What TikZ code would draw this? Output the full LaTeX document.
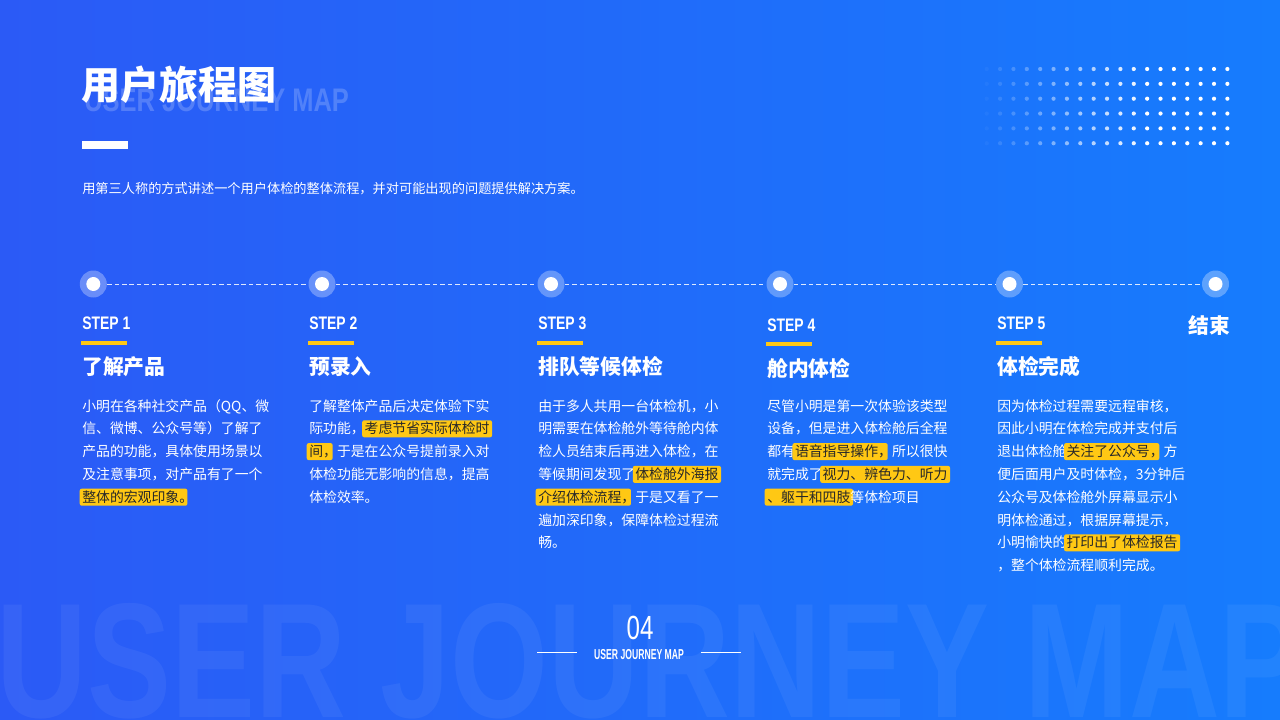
\documentclass[tikz,border=0pt]{standalone}
\usepackage{fontspec}
\setmainfont{Noto Sans CJK SC}
\newfontfamily\lsans{Liberation Sans}
\definecolor{bgl}{RGB}{43,90,246}
\definecolor{bgr}{RGB}{22,124,253}
\definecolor{hly}{RGB}{255,200,20}
\definecolor{hltxt}{RGB}{40,40,40}
\newcommand{\hl}[2][0pt]{\hspace{-1.9pt}\tikz[baseline=(hlbox.base)]\node[fill=hly,rounded corners=1.5pt,inner xsep=1.9pt,inner ysep=0pt,text=hltxt,anchor=base west](hlbox){\rule[-2.625pt]{0pt}{12.75pt}#2\kern-#1\null};\hspace{-1.9pt}\hspace{#1}}
\newcommand{\steptxt}[1]{\scalebox{0.77}[1]{\lsans\bfseries\fontsize{13.6pt}{14pt}\selectfont #1}}
\tikzset{
  bt/.style={anchor=base west,inner sep=0pt,text=white,font=\fontsize{10.4pt}{12pt}\selectfont},
  hd/.style={anchor=base west,inner sep=0pt,text=white,font=\fontsize{15.6pt}{18pt}\selectfont\bfseries},
  steplbl/.style={anchor=base west,inner sep=0pt,text=white},
  ring/.style={circle,fill=white,fill opacity=0.3,minimum size=20.25pt,inner sep=0pt},
  dotc/.style={circle,fill=white,minimum size=10.5pt,inner sep=0pt},
  dline/.style={white,draw opacity=0.85,line width=0.75pt,dash pattern=on 3.4pt off 2.2pt},
  uline/.style={fill=hly},
}
\newcommand{\bodycol}[3]{%
  \foreach \lin [count=\k] in {#3} {\node[bt] (#1l\k) at (#2,{411+22.8*(\k-1)}) {\lin};}}
\begin{document}
\begin{tikzpicture}[x=0.75pt,y=-0.75pt]
\useasboundingbox (0,0) rectangle (1280,720);
\clip (0,0) rectangle (1280,720);
\shade[left color=bgl,right color=bgr] (0,0) rectangle (1280,720);
% big watermark
\node[anchor=base west,inner sep=0pt,text=white,text opacity=0.055] (wmbig) at (-4,717)
  {\scalebox{0.77}[1]{\lsans\bfseries\fontsize{122.6pt}{123pt}\selectfont USER JOURNEY MAP}};
% title watermark
\node[anchor=base west,inner sep=0pt,text=white,text opacity=0.2] (wmtitle) at (84,111.7)
  {\scalebox{0.78}[1]{\lsans\bfseries\fontsize{24.5pt}{25pt}\selectfont USER JOURNEY MAP}};
\node[anchor=base west,inner sep=0pt,text=white,font=\fontsize{29.25pt}{30pt}\selectfont\bfseries] (title) at (81,100) {用户旅程图};
\fill[white] (82,141) rectangle (128,149);
\node[anchor=base west,inner sep=0pt,text=white,font=\fontsize{9.9pt}{11pt}\selectfont] (sub) at (82,194)
  {用第三人称的方式讲述一个用户体检的整体流程，并对可能出现的问题提供解决方案。};
% dot grid
\foreach \i in {0,...,18} {
  \pgfmathsetmacro\op{min(1,0.04+\i*0.08)}
  \foreach \j in {0,...,5} {
    \fill[white,fill opacity=\op] ({986.7+\i*13.37},{69+\j*14.85}) circle (2.1);
  }
}
% timeline
\foreach \cx [count=\n] in {93.3,322,551,780,1009.5,1215.5} {
  \node[ring] (c\n) at (\cx,284) {};
  \node[dotc] (d\n) at (\cx,284) {};
}
\foreach \a/\b in {1/2,2/3,3/4,4/5,5/6} \draw[dline] (c\a) -- (c\b);
% steps
\foreach \sx/\sn/\dy in {82/1/0,309/2/0,538/3/0,767/4/1.5,997/5/0} {
  \node[steplbl] (st\sn) at (\sx,329.5+\dy) {\steptxt{STEP \sn}};
  \fill[uline] (\sx-1,340.5+\dy) rectangle (\sx+45,344.5+\dy);
}
\node[hd] (h1) at (82,374.7) {了解产品};
\node[hd] (h2) at (309,374.7) {预录入};
\node[hd] (h3) at (538,374.7) {排队等候体检};
\node[hd] (h4) at (767,376.2) {舱内体检};
\node[hd] (h5) at (997,374.7) {体检完成};
\node[hd] (fin) at (1188,333) {结束};
\bodycol{s1}{82}{小明在各种社交产品（QQ、微,信、微博、公众号等）了解了,产品的功能，具体使用场景以,及注意事项，对产品有了一个,{\hl[0.6em]{整体的宏观印象。}}}
\bodycol{s2}{309}{了解整体产品后决定体验下实,{际功能，\hl{考虑节省实际体检时}},{\hl[0.5em]{间，}于是在公众号提前录入对},体检功能无影响的信息，提高,体检效率。}
\bodycol{s3}{538}{由于多人共用一台体检机，小,明需要在体检舱外等待舱内体,检人员结束后再进入体检，在,{等候期间发现了\hl{体检舱外海报}},{\hl[0.5em]{介绍体检流程，}于是又看了一},遍加深印象，保障体检过程流,畅。}
\bodycol{s4}{767}{尽管小明是第一次体验该类型,设备，但是进入体检舱后全程,{都有\hl[0.5em]{语音指导操作，}所以很快},{就完成了\hl{视力、辨色力、听力}},{\hl{、躯干和四肢}等体检项目}}
\bodycol{s5}{997}{因为体检过程需要远程审核，,因此小明在体检完成并支付后,{退出体检舱\hl[0.5em]{关注了公众号，}方},便后面用户及时体检，3分钟后,公众号及体检舱外屏幕显示小,明体检通过，根据屏幕提示，,{小明愉快的\hl{打印出了体检报告}},，整个体检流程顺利完成。}
% footer
\node[anchor=base,inner sep=0pt,text=white] (num) at (640,639)
  {\scalebox{0.72}[1]{\lsans\fontsize{25.1pt}{26pt}\selectfont 04}};
\node[anchor=base,inner sep=0pt,text=white] (ujm) at (639,659.3)
  {\scalebox{0.6}[1]{\lsans\bfseries\fontsize{10.8pt}{11pt}\selectfont USER JOURNEY MAP}};
\coordinate (la) at (537,652.7); \coordinate (lb) at (577,652.7);
\coordinate (ra) at (701,652.7); \coordinate (rb) at (741,652.7);
\draw[white,line width=0.75pt] (la) -- (lb);
\draw[white,line width=0.75pt] (ra) -- (rb);
\end{tikzpicture}
\end{document}
